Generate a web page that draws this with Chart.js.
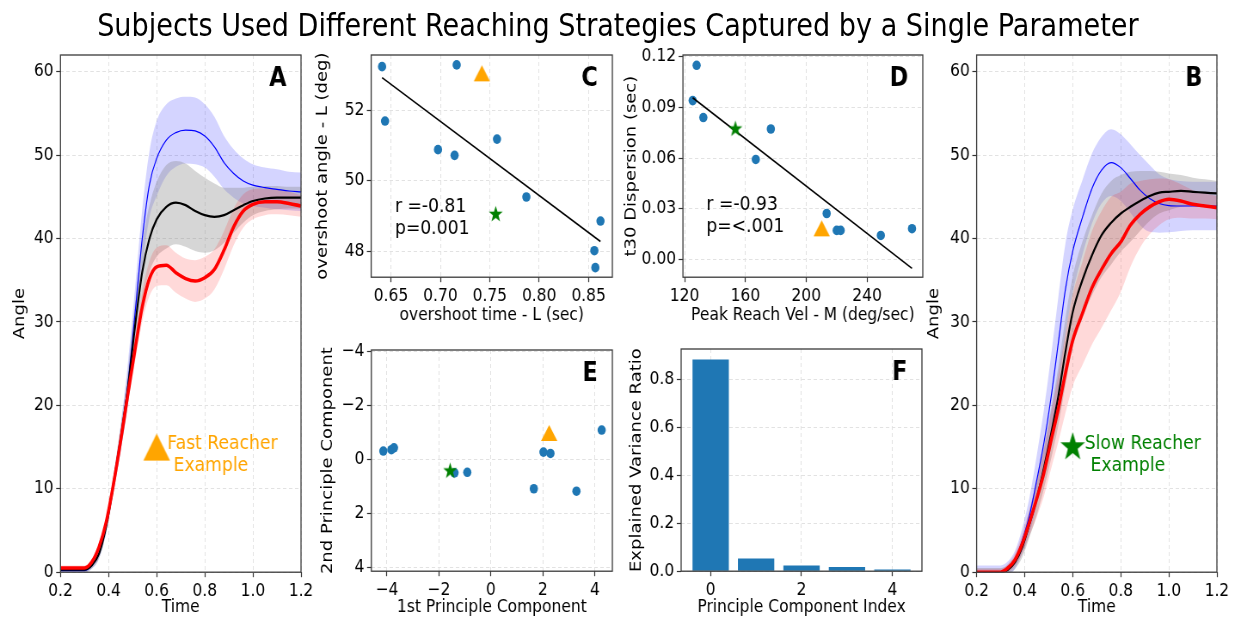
<!DOCTYPE html>
<html>
<head>
<meta charset="utf-8">
<script src="https://cdn.jsdelivr.net/npm/chart.js@4.4.1/dist/chart.umd.min.js"></script>
<style>
  html, body { margin: 0; padding: 0; background: #fff; overflow: hidden; }
  #fig { position: absolute; left: 0; top: 0; width: 1437px; height: 618px; transform: scaleX(0.86); transform-origin: 0 0; }
  #fig canvas { position: absolute; }
  #title { position: absolute; left: 0; top: 7px; width: 100%; text-align: center; font: 31.5px "DejaVu Sans"; line-height: 36px; color: #000; }
</style>
</head>
<body>
<div id="fig">
  <div id="title">Subjects Used Different Reaching Strategies Captured by a Single Parameter</div>
  <canvas id="panelA"></canvas>
  <canvas id="panelC"></canvas>
  <canvas id="panelD"></canvas>
  <canvas id="panelE"></canvas>
  <canvas id="panelF"></canvas>
  <canvas id="panelB"></canvas>
</div>
<script>
// ---- mean angle curves (A = fast reacher, B = slow reacher) ----
const timeS = [0.2, 0.3, 0.33, 0.36, 0.39, 0.42, 0.45, 0.48, 0.51, 0.54, 0.57, 0.60, 0.64, 0.68, 0.72, 0.76, 0.80, 0.84, 0.88, 0.92, 0.96, 1.00, 1.05, 1.10, 1.15, 1.20];

const blueA   = [0.2, 0.2, 0.8, 2.2, 5.5, 10.5, 16, 22.5, 31, 40, 46.5, 49.6, 51.8, 52.7, 53.0, 52.9, 52.3, 51.0, 49.1, 47.8, 46.9, 46.4, 46.1, 45.9, 45.7, 45.6];
const blueSdA = [0.3, 0.3, 0.4, 0.6, 0.8, 1, 1.6, 2.5, 3, 3.5, 4, 4.5, 4.3, 4.1, 4, 4, 3.8, 3.6, 3.2, 2.9, 2.7, 2.5, 2.4, 2.4, 2.3, 2.3];
const blackA  = [0.3, 0.3, 0.8, 2.2, 5.5, 10.5, 16, 22, 29.5, 36, 40, 42.3, 43.8, 44.3, 44.0, 43.3, 42.8, 42.6, 42.8, 43.4, 44.0, 44.5, 44.8, 44.9, 44.9, 44.9];
const graySdA = [0.3, 0.3, 0.4, 0.6, 0.8, 1, 1.5, 2, 2.8, 3.5, 4, 4.5, 5, 5, 5, 4.8, 4.5, 4, 3.3, 2.7, 2.1, 1.7, 1.5, 1.4, 1.3, 1.3];
const redA    = [0.5, 0.5, 1.2, 3, 6, 10.5, 15.7, 21.3, 26.7, 31.8, 35.2, 36.6, 36.8, 35.9, 35.2, 34.9, 35.3, 36.3, 38.6, 41.4, 43.3, 44.1, 44.4, 44.4, 44.2, 43.9];
const redSdA  = [0.3, 0.3, 0.4, 0.5, 0.6, 0.8, 1, 1.2, 1.5, 1.8, 2.1, 2.3, 2.4, 2.4, 2.4, 2.5, 2.5, 2.4, 2.3, 2.2, 2, 1.8, 1.6, 1.5, 1.4, 1.3];

const blueB   = [0, 0, 0.4, 1.5, 3.8, 6.8, 11, 15.5, 21, 27.5, 34, 38.5, 42.5, 46, 48.2, 49.1, 48.5, 47.2, 45.8, 44.8, 44.2, 43.95, 43.9, 43.9, 43.9, 43.9];
const blueSdB = [0.8, 0.8, 0.9, 1.1, 1.5, 2.2, 3, 4, 5, 5.5, 5.5, 5, 4.5, 4.2, 4, 4, 4, 4.1, 4.2, 4, 3.5, 3.2, 3, 2.9, 2.9, 2.9];
const blackB  = [0, 0, 0.3, 1.2, 3, 5.8, 8.8, 12.5, 16.6, 21.1, 26.5, 31.2, 35.0, 38.0, 40.4, 41.9, 43.0, 43.8, 44.5, 45.1, 45.5, 45.6, 45.7, 45.6, 45.5, 45.4];
const graySdB = [0.5, 0.5, 0.6, 0.8, 1.2, 1.6, 2, 2.5, 3, 3.5, 4, 4.3, 4.6, 4.8, 5, 5, 4.6, 4.2, 3.6, 3, 2.5, 2.2, 1.9, 1.7, 1.6, 1.5];
const redB    = [0, 0, 0.5, 1.5, 3.4, 6, 8.8, 11.9, 15.8, 19.6, 23.9, 27.8, 31.0, 34.1, 36.3, 38.2, 39.6, 41.6, 42.9, 43.8, 44.4, 44.7, 44.5, 44.1, 43.9, 43.7];
const redSdB  = [0.4, 0.4, 0.5, 0.8, 1.2, 1.6, 2.2, 2.8, 3.4, 4, 4.8, 5.5, 6.2, 6.8, 7, 6.8, 6, 5, 4, 3.3, 2.8, 2.4, 2, 1.7, 1.5, 1.4];

const exampleMark = [0.6, 15];

// ---- C: overshoot ----
const cTime  = [0.641, 0.644, 0.7165, 0.6976, 0.7144, 0.7573, 0.787, 0.862, 0.8558, 0.8568];
const cAngle = [53.23, 51.69, 53.28, 50.88, 50.72, 51.18, 49.54, 48.86, 48.02, 47.54];
const cFast = [0.742, 53.04];
const cSlow = [0.756, 49.05];
const cFitX = [0.641, 0.862];
const cFitY = [52.92, 48.28];

// ---- D: peak velocity vs dispersion ----
const dVel  = [127.9, 125.3, 132.3, 176.7, 166.8, 213.4, 220, 222.6, 249, 269.5];
const dDisp = [0.1149, 0.094, 0.084, 0.0772, 0.0592, 0.0272, 0.0172, 0.0172, 0.0142, 0.0182];
const dFast = [210.1, 0.0184];
const dSlow = [153.4, 0.0772];
const dFitX = [125.3, 269.5];
const dFitY = [0.0957, -0.0053];

// ---- E: PCA scores ----
const ePc1 = [-4.14, -3.83, -3.73, -1.40, -0.91, 2.02, 2.29, 1.65, 3.29, 4.26];
const ePc2 = [-0.31, -0.36, -0.43, 0.50, 0.48, -0.27, -0.22, 1.09, 1.18, -1.09];
const eFast = [2.24, -0.98];
const eSlow = [-1.57, 0.43];

// ---- F: explained variance ----
const pcIndex  = [0, 1, 2, 3, 4];
const varRatio = [0.881, 0.053, 0.024, 0.018, 0.007];

const SQ = 0.86; // whole figure is squeezed horizontally
const ORANGE = '#ffa500', GREEN = '#008000', DOT = '#1f77b4';

Chart.defaults.font.family = '"DejaVu Sans", sans-serif';
Chart.defaults.font.size = 18;
Chart.defaults.color = '#000';
Chart.defaults.animation = false;
Chart.defaults.responsive = false;
Chart.defaults.plugins.legend.display = false;
Chart.defaults.plugins.tooltip.enabled = false;

// frame, panel letter and text notes
Chart.register({
  id: 'frame',
  afterDatasetsDraw(chart, args, opts) {
    const { ctx, chartArea: a, scales } = chart;
    ctx.save();
    ctx.strokeStyle = '#3a3a3a';
    ctx.lineWidth = 1.3;
    ctx.strokeRect(a.left, a.top, a.right - a.left, a.bottom - a.top);
    ctx.fillStyle = '#000';
    ctx.font = 'bold 26px "DejaVu Sans"';
    ctx.textAlign = 'right';
    ctx.textBaseline = 'alphabetic';
    if (opts.letter) ctx.fillText(opts.letter, a.right - 17, a.top + 31);
    ctx.textAlign = 'left';
    ctx.textBaseline = 'middle';
    ctx.font = '20px "DejaVu Sans"';
    (opts.notes || []).forEach(n => {
      ctx.fillStyle = n.color || '#000';
      ctx.fillText(n.text, scales.x.getPixelForValue(n.x), scales.y.getPixelForValue(n.y));
    });
    ctx.restore();
  }
});

function starImage(R, color) {
  const c = document.createElement('canvas');
  const size = Math.ceil(R * 2 + 2);
  c.width = size; c.height = size;
  const g = c.getContext('2d');
  g.fillStyle = color;
  g.beginPath();
  for (let i = 0; i < 10; i++) {
    const r = i % 2 ? R * 0.4 : R;
    const ang = -Math.PI / 2 + i * Math.PI / 5;
    const px = size / 2 + r * Math.cos(ang), py = size / 2 + r * Math.sin(ang);
    if (i) g.lineTo(px, py); else g.moveTo(px, py);
  }
  g.closePath();
  g.fill();
  return c;
}

function triImage(w, h, color) {
  const c = document.createElement('canvas');
  c.width = w + 2; c.height = h + 2;
  const g = c.getContext('2d');
  g.fillStyle = color;
  g.beginPath();
  g.moveTo(1 + w / 2, 1);
  g.lineTo(1 + w, 1 + h);
  g.lineTo(1, 1 + h);
  g.closePath();
  g.fill();
  return c;
}

const fix = d => v => Number(v).toFixed(d).replace('-', '\u2212');

function linAxis(min, max, step, title, fmt) {
  return {
    type: 'linear', min: min, max: max,
    ticks: { stepSize: step, includeBounds: false, autoSkip: false, maxRotation: 0, padding: 3, callback: fmt },
    grid: { color: '#e2e2e2', lineWidth: 1, tickLength: 5, tickColor: '#333', tickWidth: 1.2 },
    border: { display: false, dash: [4, 3] },
    title: { display: true, text: title, padding: 0 }
  };
}

function makePanel(id, box, padL, padB, config) {
  const [L, T, R, B] = box;
  const cv = document.getElementById(id);
  cv.width = Math.round((R - L) / SQ + padL + 24);
  cv.height = Math.round(B - T + 16 + padB);
  cv.style.left = (L / SQ - padL) + 'px';
  cv.style.top = (T - 16) + 'px';
  config.options.layout = { padding: { top: 16, right: 24, left: 0, bottom: 0 } };
  config.options.scales.x.afterFit = s => { s.height = padB; };
  config.options.scales.y.afterFit = s => { s.width = padL; };
  return new Chart(cv, config);
}

const xy = (xs, ys) => xs.map((x, i) => ({ x: x, y: ys[i] }));
const pt = p => [{ x: p[0], y: p[1] }];

function curveLine(ys, color, w) {
  return { data: xy(timeS, ys), borderColor: color, borderWidth: w, pointRadius: 0, fill: false,
           cubicInterpolationMode: 'monotone', clip: 0 };
}
function bandPair(m, s, color) {
  const up = m.map((v, i) => v + s[i]), lo = m.map((v, i) => v - s[i]);
  return [
    { data: xy(timeS, up), borderColor: 'transparent', borderWidth: 0, pointRadius: 0, fill: '+1',
      backgroundColor: color, cubicInterpolationMode: 'monotone', clip: 0 },
    { data: xy(timeS, lo), borderColor: 'transparent', borderWidth: 0, pointRadius: 0, fill: false,
      cubicInterpolationMode: 'monotone', clip: 0 }
  ];
}

function curvePanel(id, box, padL, letter, c, markImg, label, color, noteX) {
  return makePanel(id, box, padL, 45.8, {
    type: 'line',
    data: { datasets: [
      { data: pt(exampleMark), showLine: false, pointStyle: markImg, pointRadius: 5 },
      curveLine(c.red, '#ff0000', 3.6),
      curveLine(c.black, '#000000', 2.2),
      curveLine(c.blue, '#0000ff', 1.2),
      ...bandPair(c.red, c.redSd, 'rgba(255,0,0,0.15)'),
      ...bandPair(c.black, c.graySd, 'rgba(128,128,128,0.32)'),
      ...bandPair(c.blue, c.blueSd, 'rgba(0,0,255,0.17)')
    ] },
    options: {
      scales: { x: linAxis(0.2, 1.2, 0.2, 'Time', fix(1)), y: linAxis(0, 62, 10, 'Angle', fix(0)) },
      plugins: { frame: { letter: letter, notes: [
        { text: label, x: noteX[0], y: 15.4, color: color },
        { text: 'Example', x: noteX[1], y: 12.8, color: color }
      ] } }
    }
  });
}

function scatterPanel(id, box, padL, padB, letter, pts, fast, slow, fit, scales, notes) {
  const datasets = [
    { data: pt(slow), pointStyle: starImage(8.5, GREEN), pointRadius: 5 },
    { data: pt(fast), pointStyle: triImage(19, 16, ORANGE), pointRadius: 5 }
  ];
  if (fit) datasets.push({ type: 'line', data: fit, borderColor: '#000', borderWidth: 1.6, pointRadius: 0, showLine: true, fill: false });
  datasets.push({ data: pts, backgroundColor: DOT, borderWidth: 0, pointRadius: 4.8 });
  return makePanel(id, box, padL, padB, {
    type: 'scatter',
    data: { datasets: datasets },
    options: { scales: scales, plugins: { frame: { letter: letter, notes: notes || [] } } }
  });
}

// A
curvePanel('panelA', [60.5, 55, 300.7, 572], 57.3, 'A',
  { blue: blueA, blueSd: blueSdA, black: blackA, graySd: graySdA, red: redA, redSd: redSdA },
  triImage(31, 27, ORANGE), 'Fast Reacher', ORANGE, [0.644, 0.67]);

// B
curvePanel('panelB', [977, 55, 1217.5, 572], 59.6, 'B',
  { blue: blueB, blueSd: blueSdB, black: blackB, graySd: graySdB, red: redB, redSd: redSdB },
  starImage(15, GREEN), 'Slow Reacher', GREEN, [0.65, 0.674]);

// C
scatterPanel('panelC', [371, 55, 612, 277], 66.6, 48.8, 'C', xy(cTime, cAngle), cFast, cSlow, xy(cFitX, cFitY), {
  x: linAxis(0.630, 0.874, 0.05, 'overshoot time - L (sec)', fix(2)),
  y: linAxis(47.27, 53.56, 2, 'overshoot angle - L (deg)', fix(0))
}, [{ text: 'r =-0.81', x: 0.654, y: 49.26 }, { text: 'p=0.001', x: 0.654, y: 48.64 }]);

// D
scatterPanel('panelD', [682.7, 55, 922.3, 277], 70.1, 48.8, 'D', xy(dVel, dDisp), dFast, dSlow, xy(dFitX, dFitY), {
  x: linAxis(118.9, 276.6, 40, 'Peak Reach Vel - M (deg/sec)', fix(0)),
  y: linAxis(-0.0105, 0.121, 0.03, 't30 Dispersion (sec)', fix(2))
}, [{ text: 'r =-0.93', x: 134.3, y: 0.0322 }, { text: 'p=<.001', x: 134.3, y: 0.0193 }]);

// E
const eY = linAxis(-4.06, 4.15, 2, '2nd Principle Component', fix(0));
eY.reverse = true;
scatterPanel('panelE', [371, 350, 612, 571], 60.8, 46.8, 'E', xy(ePc1, ePc2), eFast, eSlow, null, {
  x: linAxis(-4.6, 4.67, 2, '1st Principle Component', fix(0)),
  y: eY
});

// F
const fX = linAxis(-0.65, 4.65, 2, 'Principle Component Index', fix(0));
fX.offset = false;
fX.grid.offset = false;
makePanel('panelF', [681, 349, 922, 571], 62, 46.8, {
  type: 'bar',
  data: { datasets: [{ data: xy(pcIndex, varRatio), backgroundColor: DOT, borderWidth: 0,
                       categoryPercentage: 1, barPercentage: 0.8 }] },
  options: {
    scales: { x: fX, y: linAxis(0, 0.925, 0.2, 'Explained Variance Ratio', fix(1)) },
    plugins: { frame: { letter: 'F' } }
  }
});
</script>
</body>
</html>
